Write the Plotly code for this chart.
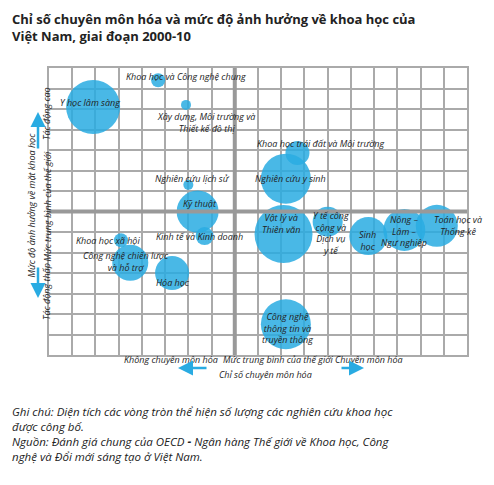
import plotly.graph_objects as go

names = ["Y học lâm sàng","Khoa học và Công nghệ chung","Xây dựng","Khoa học trái đất và Môi trường",
         "Nghiên cứu y sinh","Nghiên cứu lịch sử","Kỹ thuật","Kinh tế và Kinh doanh","Khoa học xã hội",
         "Công nghệ chiến lược và hỗ trợ","Hóa học","Vật lý và Thiên văn","Y tế công cộng và Dịch vụ y tế",
         "Sinh học","Nông – Lâm – Ngư nghiệp","Toán học và Thống kê","Công nghệ thông tin và truyền thông"]
spec_x = [1.9,4.7,5.9,10.7,10.2,6.0,6.4,6.7,3.1,3.5,5.3,10.1,12.0,13.75,15.3,16.7,10.2]
impact_y = [12.1,13.4,12.2,9.85,8.6,8.3,7.0,5.8,5.6,4.5,4.0,5.9,6.5,5.8,6.1,6.3,1.5]
pubs = [54,14,10,24,50,10,42,18,14,36,34,58,30,38,42,42,50]

labels = ["Y học lâm sàng","Khoa học và Công nghệ chung","Xây dựng, Môi trường và<br>Thiết kế đô thị",
          "Khoa học trái đất và Môi trường","Nghiên cứu y sinh","Nghiên cứu lịch sử","Kỹ thuật",
          "Kinh tế và Kinh doanh","Khoa học xã hội","Công nghệ chiến lược<br>và hỗ trợ","Hóa học",
          "Vật lý và<br>Thiên văn","Y tế công<br>cộng và<br>Dịch vụ<br>y tế","Sinh<br>học",
          "Nông –<br>Lâm –<br>Ngư nghiệp","Toán học và<br>Thống kê","Công nghệ<br>thông tin và<br>truyền thông"]
label_x = [1.77,5.9,6.75,11.7,10.4,6.2,6.5,6.5,2.55,3.3,5.35,10.0,12.15,13.7,15.3,17.6,10.25]
label_y = [12.3,13.6,11.35,10.3,8.6,8.6,7.4,5.8,5.6,4.55,3.55,6.4,5.95,5.6,6.05,6.3,1.3]

blue = "#29abe2"
fig = go.Figure(go.Scatter(x=spec_x, y=impact_y, mode="markers", text=names,
    marker=dict(size=pubs, sizemode="diameter", color=blue, opacity=0.85, line=dict(width=0))))

F = "Open Sans"
for t, x, y in zip(labels, label_x, label_y):
    fig.add_annotation(x=x, y=y, text="<i>"+t+"</i>", showarrow=False,
                       font=dict(family=F, size=9, color="#222"), align="center")

fig.add_shape(type="line", x0=8, x1=8, y0=0, y1=14, line=dict(color="#999", width=4))
fig.add_shape(type="line", x0=0, x1=18, y0=7, y1=7, line=dict(color="#999", width=4))

def px(xp, yp):
    return (xp-49)/418, (355-yp)/287

def txt(xp, yp, s, size=9, angle=0):
    x, y = px(xp, yp)
    fig.add_annotation(xref="paper", yref="paper", x=x, y=y, text=s, showarrow=False,
                       textangle=angle, font=dict(family=F, size=size, color="#222"))

def arrow(x0p, y0p, x1p, y1p):
    x1, y1 = px(x1p, y1p)
    fig.add_annotation(xref="paper", yref="paper", x=x1, y=y1, ax=x0p-x1p, ay=y0p-y1p,
                       showarrow=True, arrowhead=2, arrowsize=1.2, arrowwidth=2.5, arrowcolor=blue, text="")

txt(122, 368, "<i>Không chuyên môn hóa</i>")
txt(278, 368, "<i>Mức trung bình của thế giới</i>")
txt(405, 368, "<i>Chuyên môn hóa</i>")
txt(265, 383, "<i>Chỉ số chuyên môn hóa</i>")
arrow(208, 368, 178, 368)
arrow(340, 368, 364, 368)
txt(38, 85, "<i>Tác động cao</i>", angle=-90)
txt(38, 322, "<i>Tác động thấp</i>", angle=-90)
txt(22, 205, "<i>Mức độ ảnh hưởng về mặt khoa học</i>", angle=-90)
txt(38, 207, "<i>Mức trung bình của thế giới</i>", angle=-90)
arrow(38, 150, 38, 112)
arrow(38, 266, 38, 298)

fig.add_annotation(xref="paper", yref="paper", x=px(10, 0)[0], y=px(0, 8)[1], xanchor="left", yanchor="top",
    text="<b>Chỉ số chuyên môn hóa và mức độ ảnh hưởng về khoa học của<br>Việt Nam, giai đoạn 2000-10</b>",
    showarrow=False, align="left", font=dict(family=F, size=13, color="#222"))
fig.add_annotation(xref="paper", yref="paper", x=px(10, 0)[0], y=px(0, 402)[1], xanchor="left", yanchor="top",
    text="<i>Ghi chú: Diện tích các vòng tròn thể hiện số lượng các nghiên cứu khoa học<br>được công bố.<br>"
         "Nguồn: Đánh giá chung của OECD <b>-</b> Ngân hàng Thế giới về Khoa học, Công<br>nghệ và Đổi mới sáng tạo ở Việt Nam.</i>",
    showarrow=False, align="left", font=dict(family=F, size=11.5, color="#222"))

ax = dict(showgrid=True, gridcolor="#aaa", gridwidth=2, dtick=1, showticklabels=False, zeroline=False,
          showline=True, linecolor="#aaa", linewidth=2, mirror=True, fixedrange=True)
fig.update_layout(width=478, height=469, margin=dict(l=41, r=19, t=60, b=122),
    plot_bgcolor="white", paper_bgcolor="white", showlegend=False,
    xaxis=dict(range=[0, 18], **ax), yaxis=dict(range=[0, 14], **ax))
fig.write_html("out.html")
